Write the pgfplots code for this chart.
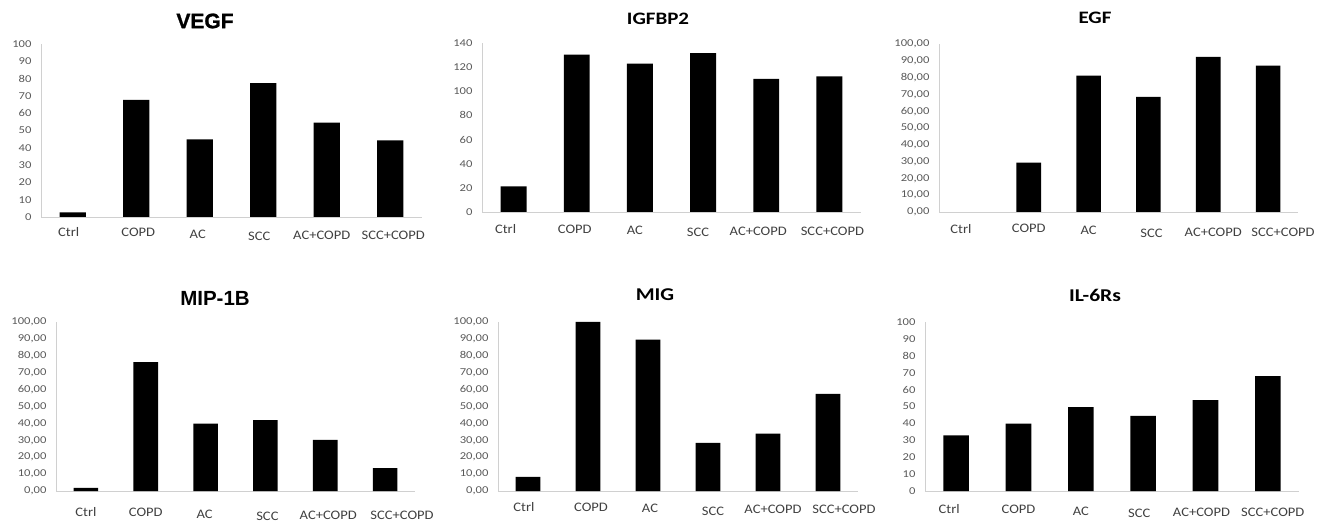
\documentclass[border=0pt]{standalone}
\usepackage{fontspec}
\setmainfont{Carlito}
\newfontfamily\tickfont{Carlito}[FakeStretch=1.2]
\newfontfamily\labfont{Carlito}[FakeStretch=1.12]
\newfontfamily\titlefont{Carlito}[FakeStretch=1.2]
\newfontfamily\arialfont{Liberation Sans}
\newfontfamily\heavyfont{Liberation Sans Bold}[FakeBold=1.2]
\usepackage{pgfplots}
\pgfplotsset{compat=1.18}
\definecolor{axisgray}{HTML}{D0D0D0}
\definecolor{tickgray}{HTML}{595959}
\definecolor{labgray}{HTML}{404040}
% \lab{dx}{dy}{text}: shift a category label right by dx bp and down by dy bp
\newcommand{\lab}[3]{\raisebox{-#2bp}[\height][\depth]{\kern#1bp\relax #3\kern-#1bp\relax}}
\pgfplotsset{
  panel/.style={
    scale only axis, anchor=south west,
    xmin=-0.5, xmax=5.5, ymin=0,
    xtick={0,...,5},
    typeset ticklabels with strut,
    axis lines=left,
    axis line style={-, draw=axisgray, line width=0.9bp},
    major tick length=0pt,
    tick style={draw=none},
    /pgf/number format/assume math mode=true,
    xticklabel style={font=\labfont\fontsize{13bp}{15bp}\selectfont, text=labgray, yshift=-5bp},
    yticklabel style={font=\tickfont\fontsize{10.5bp}{12bp}\selectfont, text=tickgray, xshift=-6bp},
    ybar, bar width=0.41,
    clip=false,
  },
  decimals/.style={
    yticklabel={\pgfmathprintnumber[fixed,fixed zerofill,precision=2,use comma]{\tick}},
  },
  integers/.style={
    yticklabel={\pgfmathprintnumber[fixed,precision=0]{\tick}},
  },
  barstyle/.style={fill=black, draw=none},
}
\begin{document}
\begin{tikzpicture}
\useasboundingbox (0,0) rectangle (1329bp,525bp);

% VEGF
\begin{axis}[panel, integers, at={(41bp,308bp)}, width=381bp, height=173bp,
  ymax=100, ytick={0,10,...,100},
  xticklabels={\lab{-4}{0}{Ctrl},\lab{2}{0}{COPD},\lab{-2}{2}{AC},\lab{-4}{4}{SCC},\lab{-5}{3}{AC+COPD},\lab{3}{3}{SCC+COPD}}]
\addplot[barstyle] coordinates {(0,2.7) (1,67.7) (2,44.9) (3,77.4) (4,54.5) (5,44.3)};
\end{axis}

% IGFBP2
\begin{axis}[panel, integers, at={(482bp,313bp)}, width=379bp, height=169bp,
  ymax=140, ytick={0,20,...,140},
  xticklabels={\lab{-8}{2}{Ctrl},\lab{-2}{2}{COPD},\lab{-5}{3}{AC},\lab{-5}{5}{SCC},\lab{-8}{4}{AC+COPD},\lab{3}{4}{SCC+COPD}}]
\addplot[barstyle] coordinates {(0,21.3) (1,130.3) (2,122.9) (3,131.7) (4,110.2) (5,112.4)};
\end{axis}

% EGF (Ctrl = 0, no visible bar)
\begin{axis}[panel, decimals, at={(939bp,313bp)}, width=359bp, height=168bp,
  ymax=100, ytick={0,10,...,100},
  xticklabels={\lab{-8}{2}{Ctrl},\lab{0}{1}{COPD},\lab{0}{3}{AC},\lab{3}{6}{SCC},\lab{5}{5}{AC+COPD},\lab{15}{5}{SCC+COPD}}]
\addplot[barstyle] coordinates {(1,29.4) (2,81.2) (3,68.5) (4,92.3) (5,87.1)};
\end{axis}

% MIP-1B
\begin{axis}[panel, decimals, at={(56bp,34bp)}, width=359bp, height=169bp,
  ymax=100, ytick={0,10,...,100},
  xticklabels={\lab{0}{6}{Ctrl},\lab{0}{6}{COPD},\lab{-1}{8}{AC},\lab{2}{10}{SCC},\lab{3}{9}{AC+COPD},\lab{17}{9}{SCC+COPD}}]
\addplot[barstyle] coordinates {(0,1.8) (1,76.3) (2,39.9) (3,41.9) (4,30.2) (5,13.6)};
\end{axis}

% MIG
\begin{axis}[panel, decimals, at={(498bp,34bp)}, width=360bp, height=169bp,
  ymax=100, ytick={0,10,...,100},
  xticklabels={\lab{-4}{1}{Ctrl},\lab{3}{1}{COPD},\lab{2}{2}{AC},\lab{5}{5}{SCC},\lab{5}{3}{AC+COPD},\lab{16}{3}{SCC+COPD}}]
\addplot[barstyle] coordinates {(0,8.3) (1,100) (2,89.6) (3,28.5) (4,33.9) (5,57.5)};
\end{axis}

% IL-6Rs
\begin{axis}[panel, integers, at={(925bp,34bp)}, width=374bp, height=169bp,
  ymax=100, ytick={0,10,...,100},
  xticklabels={\lab{-7}{3}{Ctrl},\lab{0}{3}{COPD},\lab{0}{5}{AC},\lab{-4}{7}{SCC},\lab{-4}{6}{AC+COPD},\lab{5}{6}{SCC+COPD}}]
\addplot[barstyle] coordinates {(0,32.9) (1,39.8) (2,49.6) (3,44.5) (4,53.7) (5,67.9)};
\end{axis}

% titles
\node at (205bp,504bp) {\heavyfont\fontsize{21bp}{23bp}\selectfont VEGF};
\node at (658bp,506bp) {\titlefont\bfseries\fontsize{17.5bp}{20bp}\selectfont IGFBP2};
\node at (1095bp,507bp) {\titlefont\bfseries\fontsize{17.5bp}{20bp}\selectfont EGF};
\node at (215bp,227bp) {\arialfont\bfseries\fontsize{20.5bp}{22bp}\selectfont MIP-1B};
\node at (655bp,230bp) {\titlefont\bfseries\fontsize{18bp}{20bp}\selectfont MIG};
\node at (1095bp,230bp) {\titlefont\bfseries\fontsize{18bp}{20bp}\selectfont IL-6Rs};
\end{tikzpicture}
\end{document}
